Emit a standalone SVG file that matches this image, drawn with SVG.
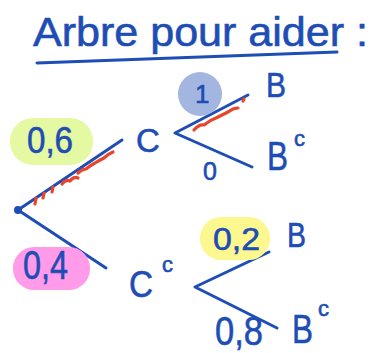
<svg xmlns="http://www.w3.org/2000/svg" width="370" height="353" viewBox="0 0 370 353">
<style>
.ln{stroke:#1d4db5;stroke-width:3;fill:none;stroke-linecap:round;stroke-linejoin:round}
.hatch{stroke:#e8452c;stroke-width:3.2;fill:none;stroke-linecap:round;stroke-linejoin:round}
.t{font-family:"Liberation Sans","DejaVu Sans",sans-serif;fill:#1d4db5;stroke:#1d4db5;stroke-width:0.6}
</style>
<rect width="370" height="353" fill="#ffffff"/>
<g id="title">
<text class="t" x="33" y="46" font-size="40" textLength="335" lengthAdjust="spacingAndGlyphs">Arbre pour aider :</text>
<path class="ln" d="M37 63 L337 52"/>
</g>
<g id="connectors">
<path class="ln" d="M18 210 L122 140"/>
<path class="hatch" d="M35 204 l1 -6 M43 198 l1 -5 M52 192 l1 -5 M62 184 q4 -5 8 -3 q4 -5 8 -3 M78 173 q4 -4 8 -4 q5 -4 9 -6 q5 -3 9 -5 q4 -4 9 -6"/>
<path class="ln" d="M18 210 L106 268"/>
<path class="ln" d="M248 95 L175 133 L252 167"/>
<path class="hatch" d="M194 130 q5 -6 10 -5 q6 -5 12 -7 q6 -3 12 -6 q5 -4 10 -4 M243 101 l1 -2"/>
<path class="ln" d="M269 252 L195 287 L277 328"/>
</g>
<g id="root"><circle cx="18" cy="210" r="4" fill="#1d4db5"/></g>
<g id="p06">
<rect x="10" y="118" width="83" height="47" rx="23" fill="#e5f8a2"/>
<text class="t" x="27" y="153" font-size="37" textLength="46" lengthAdjust="spacingAndGlyphs">0,6</text>
</g>
<g id="C"><text class="t" x="136" y="152" font-size="33">C</text></g>
<g id="p1">
<circle cx="200" cy="94" r="22" fill="#a3b6e0"/>
<text class="t" x="195" y="103" font-size="26">1</text>
</g>
<g id="B1"><text class="t" x="266" y="97" font-size="35" textLength="20" lengthAdjust="spacingAndGlyphs">B</text></g>
<g id="Bc1"><text class="t" x="267" y="170" font-size="41" textLength="21" lengthAdjust="spacingAndGlyphs">B</text><text class="t" x="294" y="146" font-size="22">c</text></g>
<g id="p0"><text class="t" x="203" y="180" font-size="25">0</text></g>
<g id="p04">
<rect x="13" y="247" width="77" height="43" rx="21" fill="#ff9be8"/>
<text class="t" x="23" y="279" font-size="41" textLength="45" lengthAdjust="spacingAndGlyphs">0,4</text>
</g>
<g id="Cc"><text class="t" x="129" y="297" font-size="37" textLength="24" lengthAdjust="spacingAndGlyphs">C</text><text class="t" x="162" y="272" font-size="22">c</text></g>
<g id="p02">
<rect x="200" y="217" width="70" height="43" rx="21" fill="#fdf78f"/>
<text class="t" x="213" y="250" font-size="32" textLength="47" lengthAdjust="spacingAndGlyphs">0,2</text>
</g>
<g id="B2"><text class="t" x="287" y="247" font-size="35" textLength="19" lengthAdjust="spacingAndGlyphs">B</text></g>
<g id="p08"><text class="t" x="215" y="345" font-size="41" textLength="48" lengthAdjust="spacingAndGlyphs">0,8</text></g>
<g id="Bc2"><text class="t" x="292" y="343" font-size="41" textLength="21" lengthAdjust="spacingAndGlyphs">B</text><text class="t" x="318" y="316" font-size="22">c</text></g>
</svg>
